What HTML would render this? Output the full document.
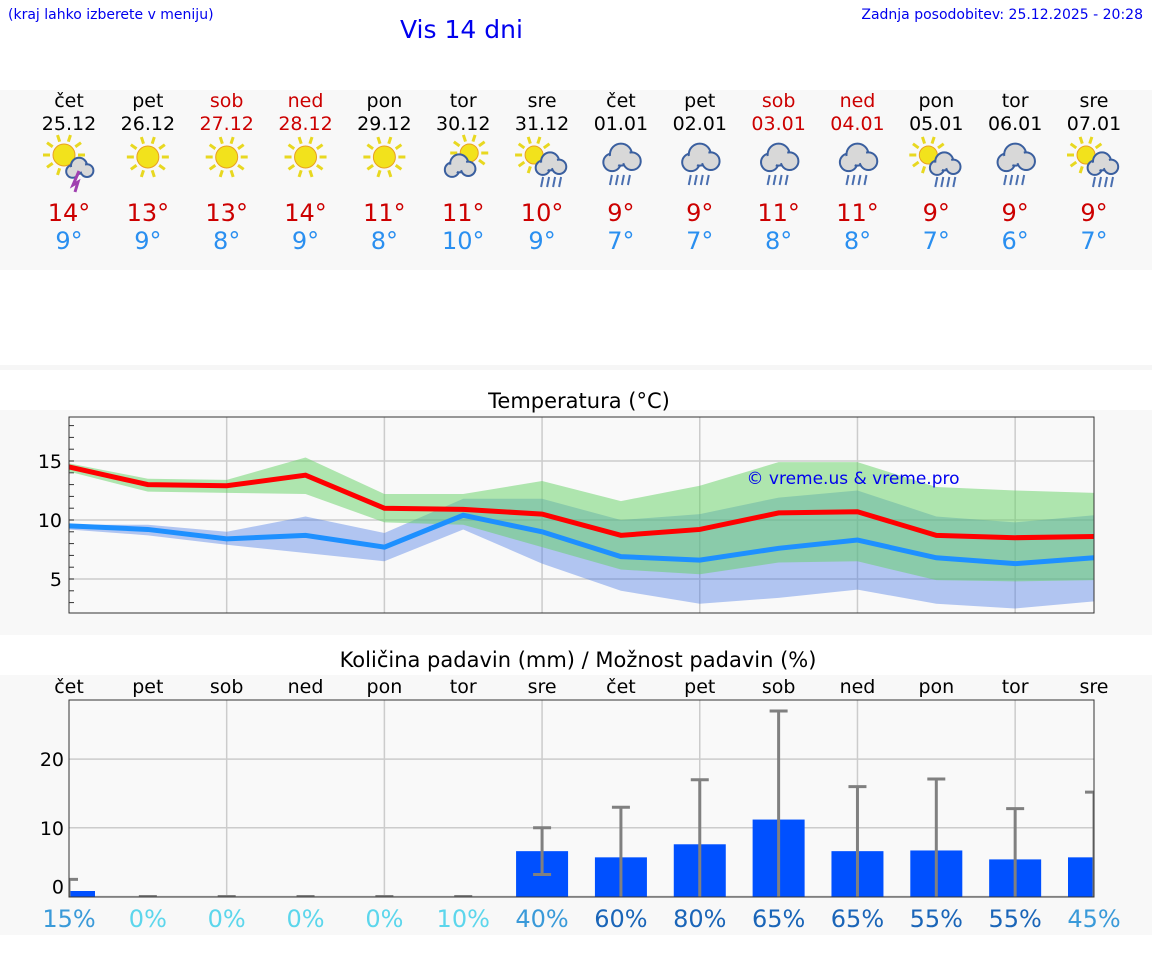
<!DOCTYPE html>
<html><head><meta charset="utf-8">
<style>
body{margin:0;width:1152px;height:975px;background:#fff;font-family:"DejaVu Sans","Liberation Sans",sans-serif;position:relative;overflow:hidden}
.t{position:absolute;white-space:nowrap}
</style></head>
<body>
<div class="t" style="left:8px;top:7px;font-size:14px;color:#0000ee">(kraj lahko izberete v meniju)</div>
<div class="t" style="left:400px;top:15px;font-size:25px;color:#0000ee">Vis 14 dni</div>
<div class="t" style="right:9px;top:7px;font-size:14px;color:#0000ee">Zadnja posodobitev: 25.12.2025 - 20:28</div>
<div style="position:absolute;left:0;top:90px;width:1152px;height:180px;background:#f8f8f8"></div>
<div style="position:absolute;left:0;top:365px;width:1152px;height:5px;background:#f6f6f6"></div>
<div style="position:absolute;left:0;top:410px;width:1152px;height:225px;background:#f8f8f8"></div>
<div style="position:absolute;left:0;top:675px;width:1152px;height:260px;background:#f8f8f8"></div>
<svg id="chart" width="1152" height="975" style="position:absolute;left:0;top:0"></svg>
<script>
const days=["čet","pet","sob","ned","pon","tor","sre","čet","pet","sob","ned","pon","tor","sre"];
const dates=["25.12","26.12","27.12","28.12","29.12","30.12","31.12","01.01","02.01","03.01","04.01","05.01","06.01","07.01"];
const weekend=[0,0,1,1,0,0,0,0,0,1,1,0,0,0];
const icons=["sunstorm","sun","sun","sun","sun","suncloud","sunrain","rain","rain","rain","rain","sunrain","rain","sunrain"];
const hiLabels=[14,13,13,14,11,11,10,9,9,11,11,9,9,9];
const loLabels=[9,9,8,9,8,10,9,7,7,8,8,7,6,7];
const tMax=[14.5,13,12.9,13.8,11,10.9,10.5,8.7,9.2,10.6,10.7,8.7,8.5,8.6];
const tMin=[9.5,9.2,8.4,8.7,7.7,10.4,9,6.9,6.6,7.6,8.3,6.8,6.3,6.8];
const maxUp=[14.8,13.5,13.4,15.3,12.2,12.2,13.3,11.6,12.9,14.9,14.9,12.8,12.5,12.3];
const maxLo=[14.1,12.4,12.3,12.2,9.8,9.6,7.7,5.8,5.4,6.4,6.5,4.9,4.8,4.9];
const minUp=[9.6,9.6,9.0,10.3,8.9,11.8,11.8,10.0,10.5,11.9,12.5,10.3,9.8,10.4];
const minLo=[9.2,8.7,7.9,7.2,6.5,9.2,6.3,4.0,2.9,3.4,4.1,2.9,2.5,3.1];
const tTicks=[5,10,15];
const rain=[0.8,0,0,0,0,0,6.6,5.7,7.6,11.2,6.6,6.7,5.4,5.7];
const rainHi=[2.5,0,0,0,0,0,10,13,17,27,16,17.1,12.8,15.2];
const rainLo=[0,0,0,0,0,0,3.2,0,0,0,0,0,0,0];
const prob=[15,0,0,0,0,10,40,60,80,65,65,55,55,45];
const rTicks=[0,10,20];

const X0=69,X1=1094,DX=(X1-X0)/13;
const xd=i=>X0+i*DX;
const yT=v=>520-(v-10)*11.8;
const yR=v=>896.5-v*6.87;
const NS="http://www.w3.org/2000/svg";
const svg=document.getElementById('chart');
function mk(tag,attrs,parent){const e=document.createElementNS(NS,tag);for(const k in attrs)e.setAttribute(k,attrs[k]);(parent||svg).appendChild(e);return e;}
function txt(x,y,s,size,fill,anchor){const e=mk('text',{x:x,y:y,'font-size':size,fill:fill,'text-anchor':anchor||'middle','font-family':'DejaVu Sans, Liberation Sans, sans-serif'});e.textContent=s;return e;}

days.forEach((d,i)=>{
  const x=xd(i),col=weekend[i]?'#cc0000':'#000';
  let e=txt(x,107,d,19,col);
  
  
  e=txt(x,130,dates[i],19,col);
  
  
  const g=mk('g',{transform:`translate(${x},165)`});
  
  
  const ic=icons[i];
  const sun=(cx,cy,r)=>{for(let k=0;k<10;k++){const a=k*Math.PI/5;mk('line',{x1:cx+Math.cos(a)*(r+3),y1:cy+Math.sin(a)*(r+3),x2:cx+Math.cos(a)*(r+10),y2:cy+Math.sin(a)*(r+10),stroke:'#e8d820','stroke-width':3},g);}mk('circle',{cx:cx,cy:cy,r:r,fill:'#f2e21c',stroke:'#e8a020','stroke-width':1},g);};
  const cloud=(cx,cy,s)=>{[[ -8,3,8],[0,-4,10],[10,2,8]].forEach(c=>mk('circle',{cx:cx+c[0]*s,cy:cy+c[1]*s,r:c[2]*s,fill:'#d8d8d8',stroke:'#3a5f9f','stroke-width':2},g));[[ -8,3,7],[0,-4,9],[10,2,7]].forEach(c=>mk('circle',{cx:cx+c[0]*s,cy:cy+c[1]*s,r:c[2]*s-1,fill:'#d8d8d8'},g));};
  const drops=(cx,cy)=>{for(let k=0;k<4;k++)mk('line',{x1:cx-9+k*6,y1:cy,x2:cx-11+k*6,y2:cy+10,stroke:'#4a6fb0','stroke-width':2},g);};
  if(ic==='sun')sun(0,-8,11);
  if(ic==='sunstorm'){sun(-5,-10,11);cloud(10,4,0.8);mk('path',{d:'M10 6 L4 20 L9 17 L6 27',stroke:'#a040b0','stroke-width':3,fill:'none'},g);}
  if(ic==='suncloud'){sun(6,-12,9);cloud(-4,2,0.9);}
  if(ic==='sunrain'){sun(-8,-10,9);cloud(8,0,0.9);drops(10,12);}
  if(ic==='rain'){cloud(0,-6,1.1);drops(0,10);}
  e=txt(x,221,hiLabels[i]+'°',24,'#cc0000');
  
  
  e=txt(x,249,loLabels[i]+'°',24,'#2a8ff0');
  
  
});

let e=txt(579,408,'Temperatura (°C)',21,'#000');


mk('rect',{x:X0,y:417,width:X1-X0,height:196,fill:'#f9f9f9'});
for(let i=2;i<13;i+=2){mk('line',{x1:xd(i),y1:417,x2:xd(i),y2:613,stroke:'#ccc','stroke-width':1.5});}
tTicks.forEach(v=>{mk('line',{x1:X0,y1:yT(v),x2:X1,y2:yT(v),stroke:'#ccc','stroke-width':1.5});const t=txt(62,yT(v)+7,v,19,'#000','end');});
for(let v=3;v<=18;v++){mk('line',{x1:X0,y1:yT(v),x2:X0+5,y2:yT(v),stroke:'#333'});}
function band(up,lo,fill,name){let d='';up.forEach((v,i)=>d+=(i?'L':'M')+xd(i)+' '+yT(v));for(let i=lo.length-1;i>=0;i--)d+='L'+xd(i)+' '+yT(lo[i]);const p=mk('path',{d:d+'Z',fill:fill});}
band(minUp,minLo,'rgba(70,120,230,0.4)','min-temp-range');
band(maxUp,maxLo,'rgba(100,210,100,0.5)','max-temp-range');
function line(vals,col,name){const p=mk('polyline',{points:vals.map((v,i)=>xd(i)+','+yT(v)).join(' '),fill:'none',stroke:col,'stroke-width':5});}
line(tMin,'#1e90ff','min-temp-line');
line(tMax,'#ff0000','max-temp-line');
mk('rect',{x:X0,y:417,width:X1-X0,height:196,fill:'none',stroke:'#333','stroke-width':1});
e=txt(853,484,'© vreme.us & vreme.pro',17,'#0000ee');



e=txt(578,667,'Količina padavin (mm) / Možnost padavin (%)',21,'#000');


days.forEach((d,i)=>{const t=txt(xd(i),693,d,19,'#000');});
mk('rect',{x:X0,y:700,width:X1-X0,height:197,fill:'#f9f9f9'});
for(let i=2;i<13;i+=2){mk('line',{x1:xd(i),y1:700,x2:xd(i),y2:897,stroke:'#ccc','stroke-width':1.5});}
rTicks.forEach(v=>{mk('line',{x1:X0,y1:yR(v),x2:X1,y2:yR(v),stroke:'#ccc','stroke-width':1.5});const t=txt(64,yR(v)+(v===0?-3:7),v,19,'#000','end');});
const clip=mk('clipPath',{id:'pc'});mk('rect',{x:X0,y:690,width:X1-X0,height:207},clip);
const pg=mk('g',{'clip-path':'url(#pc)'});
rain.forEach((v,i)=>{
  const x=xd(i);
  const b=mk('rect',{x:x-26,y:yR(v),width:52,height:yR(0)-yR(v),fill:'#0050ff'},pg);
  
  
  const eg=mk('g',{stroke:'#808080','stroke-width':3},pg);
  
  
  mk('line',{x1:x,y1:yR(rainHi[i]),x2:x,y2:yR(rainLo[i])},eg);
  mk('line',{x1:x-9,y1:yR(rainHi[i]),x2:x+9,y2:yR(rainHi[i])},eg);
  if(rainLo[i]>0)mk('line',{x1:x-9,y1:yR(rainLo[i]),x2:x+9,y2:yR(rainLo[i])},eg);
  const c=prob[i]>=55?'#1a65b8':(prob[i]>=15?'#3a9ad9':'#5cd6ec');
  const t=txt(x,927,prob[i]+'%',24,c);
  
  
});
mk('rect',{x:X0,y:700,width:X1-X0,height:197,fill:'none',stroke:'#333','stroke-width':1});
</script>
</body></html>
